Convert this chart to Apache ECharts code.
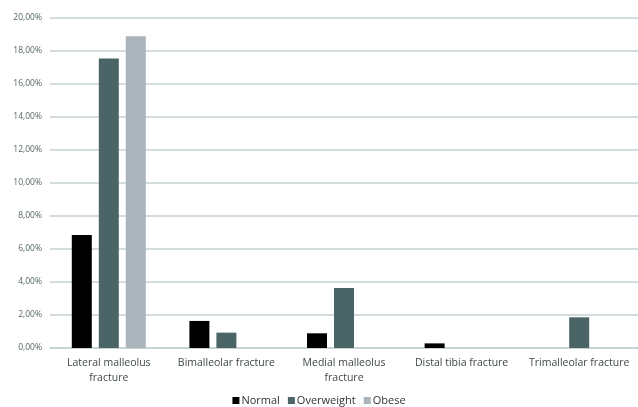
<!DOCTYPE html>
<html><head><meta charset="utf-8">
<script src="https://cdn.jsdelivr.net/npm/echarts@6/dist/echarts.min.js"></script>
<style>html,body{margin:0;padding:0;background:#fff}#c{width:638px;height:407px}</style>
</head><body><div id="c"></div>
<script>
var categories = ["Lateral malleolus\nfracture", "Bimalleolar fracture", "Medial malleolus\nfracture", "Distal tibia fracture", "Trimalleolar fracture"];
var normal = [6.85, 1.64, 0.89, 0.28, 0];
var overweight = [17.55, 0.93, 3.64, 0, 1.86];
var obese = [18.9, 0, 0, 0, 0];
var seriesNames = ["Normal", "Overweight", "Obese"];
var colors = ["#000000", "#4b6566", "#a9b5bb"];

var chart = echarts.init(document.getElementById('c'));
function mk(name, data, color) {
  return {
    name: name, type: 'bar', data: data, barWidth: 20, barGap: '35%',
    itemStyle: { color: color }
  };
}
chart.setOption({
  animation: false,
  textStyle: { fontFamily: 'Open Sans' },
  grid: { left: 50, right: -9, top: 18, bottom: 59, containLabel: false },
  xAxis: {
    type: 'category', data: categories,
    axisLine: { show: true, lineStyle: { color: '#c5d0d4', width: 1.5 } },
    axisTick: { show: false },
    axisLabel: { color: '#404848', fontSize: 10.5, lineHeight: 15, margin: 8, interval: 0 }
  },
  yAxis: {
    type: 'value', min: 0, max: 20, interval: 2,
    axisLine: { show: false }, axisTick: { show: false },
    splitLine: { lineStyle: { color: '#c5d0d4', width: 1.5 } },
    axisLabel: {
      color: '#566666', fontSize: 8.5, margin: 8,
      formatter: function (v) { return v.toFixed(2).replace('.', ',') + '%'; }
    }
  },
  legend: {
    bottom: -4, left: 'center', itemWidth: 7, itemHeight: 7, itemGap: 8,
    icon: 'rect',
    textStyle: { color: '#333', fontSize: 11, padding: [0, 0, 0, -3] },
    data: seriesNames
  },
  series: [
    mk(seriesNames[0], normal, colors[0]),
    mk(seriesNames[1], overweight, colors[1]),
    mk(seriesNames[2], obese, colors[2])
  ]
});
</script></body></html>
